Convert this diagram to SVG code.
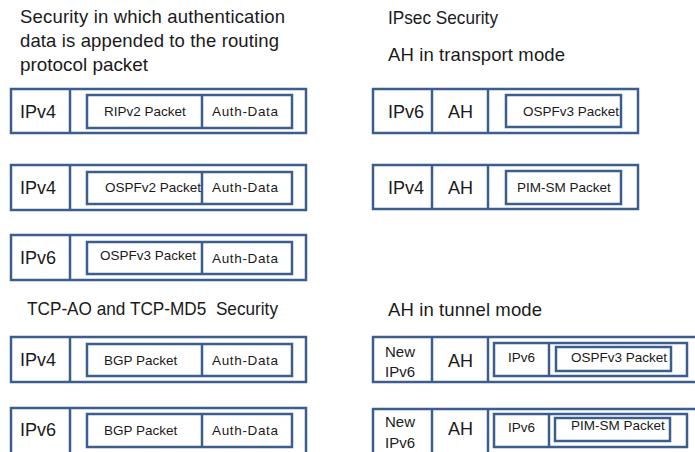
<svg xmlns="http://www.w3.org/2000/svg" width="695" height="452" viewBox="0 0 695 452">
<style>
rect{fill:none;stroke:#3B5E8C;stroke-width:2.5}
line{stroke:#3B5E8C;stroke-width:2.5}
text{font-family:"Liberation Sans",Arial,sans-serif;fill:#1a1a1a;white-space:pre}
.t{font-size:18.5px}
.h{font-size:18px}
.p{font-size:13.5px}
.n{font-size:15px}
</style>
<rect x="0" y="0" width="695" height="452" style="fill:#fff;stroke:none"/>
<g id="titles">
<text class="t" x="20" y="23" textLength="265" lengthAdjust="spacing">Security in which authentication</text>
<text class="t" x="20" y="47" textLength="259" lengthAdjust="spacing">data is appended to the routing</text>
<text class="t" x="20" y="71" textLength="128" lengthAdjust="spacingAndGlyphs">protocol packet</text>
<text class="t" x="388" y="24" textLength="110" lengthAdjust="spacingAndGlyphs">IPsec Security</text>
<text class="t" x="388" y="61" textLength="177" lengthAdjust="spacing">AH in transport mode</text>
<text class="t" x="27" y="315" xml:space="preserve" textLength="251" lengthAdjust="spacingAndGlyphs">TCP-AO and TCP-MD5  Security</text>
<text class="t" x="388" y="316" textLength="154" lengthAdjust="spacing">AH in tunnel mode</text>
</g>
<g id="l1">
<rect x="11" y="89" width="295" height="44"/><line x1="70" y1="89" x2="70" y2="133"/>
<rect x="87" y="95" width="205" height="33"/><line x1="202" y1="95" x2="202" y2="128"/>
<text class="h" x="20" y="118">IPv4</text>
<text class="p" x="104" y="116">RIPv2 Packet</text>
<text class="p" x="212" y="116" textLength="66">Auth-Data</text>
</g>
<g id="l2">
<rect x="11" y="165" width="295" height="45"/><line x1="70" y1="165" x2="70" y2="210"/>
<rect x="87" y="172" width="205" height="32"/><line x1="202" y1="172" x2="202" y2="204"/>
<text class="h" x="20" y="194">IPv4</text>
<text class="p" x="105" y="192">OSPFv2 Packet</text>
<text class="p" x="212" y="192" textLength="66">Auth-Data</text>
</g>
<g id="l3">
<rect x="11" y="235" width="295" height="45"/><line x1="70" y1="235" x2="70" y2="280"/>
<rect x="87" y="242" width="205" height="32"/><line x1="202" y1="242" x2="202" y2="274"/>
<text class="h" x="20" y="264">IPv6</text>
<text class="p" x="100" y="260">OSPFv3 Packet</text>
<text class="p" x="212" y="263" textLength="66">Auth-Data</text>
</g>
<g id="l4">
<rect x="11" y="337" width="295" height="45"/><line x1="70" y1="337" x2="70" y2="382"/>
<rect x="87" y="344" width="205" height="32"/><line x1="202" y1="344" x2="202" y2="376"/>
<text class="h" x="20" y="366">IPv4</text>
<text class="p" x="104" y="365">BGP Packet</text>
<text class="p" x="212" y="365" textLength="66">Auth-Data</text>
</g>
<g id="l5">
<rect x="11" y="408" width="295" height="46"/><line x1="70" y1="408" x2="70" y2="454"/>
<rect x="87" y="414" width="205" height="33"/><line x1="202" y1="414" x2="202" y2="447"/>
<text class="h" x="20" y="436">IPv6</text>
<text class="p" x="104" y="435">BGP Packet</text>
<text class="p" x="212" y="435" textLength="66">Auth-Data</text>
</g>
<g id="r1">
<rect x="373" y="89" width="265" height="44"/><line x1="432" y1="89" x2="432" y2="133"/><line x1="488" y1="89" x2="488" y2="133"/>
<rect x="506" y="95" width="115" height="32"/>
<text class="h" x="388" y="118">IPv6</text>
<text class="h" x="448" y="118">AH</text>
<text class="p" x="523" y="116">OSPFv3 Packet</text>
</g>
<g id="r2">
<rect x="373" y="165" width="265" height="44"/><line x1="432" y1="165" x2="432" y2="209"/><line x1="488" y1="165" x2="488" y2="209"/>
<rect x="506" y="171" width="115" height="33"/>
<text class="h" x="388" y="194">IPv4</text>
<text class="h" x="448" y="194">AH</text>
<text class="p" x="517" y="192">PIM-SM Packet</text>
</g>
<g id="r3">
<rect x="373" y="337" width="330" height="45"/><line x1="432" y1="337" x2="432" y2="382"/><line x1="488" y1="337" x2="488" y2="382"/>
<rect x="494" y="343" width="193" height="33"/><line x1="549" y1="343" x2="549" y2="376"/>
<rect x="556" y="347" width="115" height="24"/>
<text class="n" x="385" y="357">New</text>
<text class="n" x="385" y="377">IPv6</text>
<text class="h" x="448" y="367">AH</text>
<text class="p" x="508" y="362">IPv6</text>
<text class="p" x="571" y="362">OSPFv3 Packet</text>
</g>
<g id="r4">
<rect x="373" y="409" width="330" height="46"/><line x1="432" y1="409" x2="432" y2="455"/><line x1="488" y1="409" x2="488" y2="455"/>
<rect x="494" y="414" width="193" height="33"/><line x1="549" y1="414" x2="549" y2="447"/>
<rect x="555" y="418" width="115" height="23"/>
<text class="n" x="385" y="427">New</text>
<text class="n" x="385" y="448">IPv6</text>
<text class="h" x="448" y="435">AH</text>
<text class="p" x="508" y="432">IPv6</text>
<text class="p" x="571" y="430">PIM-SM Packet</text>
</g>
</svg>
